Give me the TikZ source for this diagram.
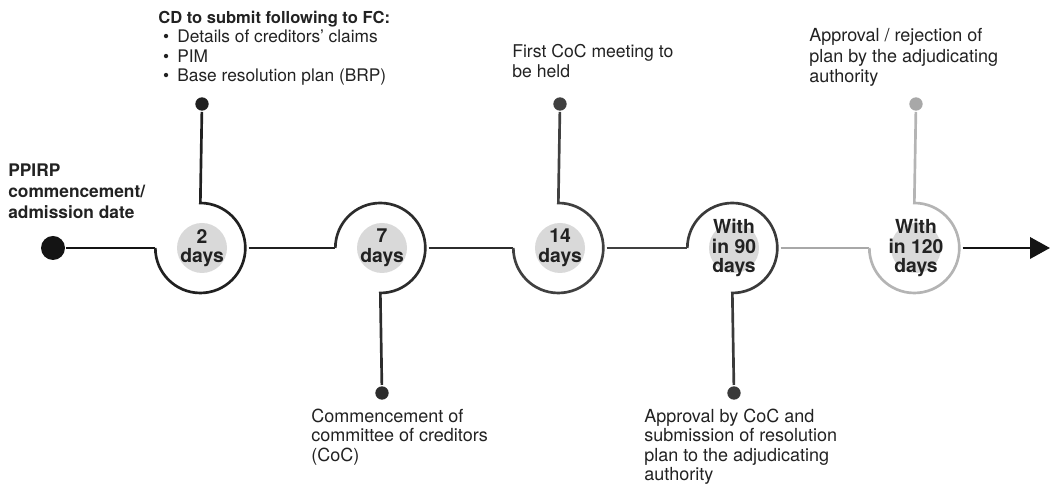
\documentclass[tikz,border=0pt]{standalone}
\usepackage{fontspec}
\setmainfont{TeX Gyre Heros}
\usetikzlibrary{arrows.meta}

\definecolor{ink}{HTML}{222222}
\definecolor{stagefill}{HTML}{D9D9D9}
\definecolor{tone0}{HTML}{141414}
\definecolor{tone1}{HTML}{202020}
\definecolor{tone2}{HTML}{2C2C2C}
\definecolor{tone3}{HTML}{404040}
\definecolor{tone4}{HTML}{3A3A3A}
\definecolor{tone5}{HTML}{B4B4B4}
\definecolor{link4}{HTML}{A8A8A8}

\tikzset{
    stage/.style={circle, minimum size=68pt, inner sep=0pt, align=center,
        text=ink, font=\bfseries\fontsize{14.5}{14.6}\selectfont,
        path picture={\fill[stagefill] (path picture bounding box.center) circle[radius=18.75pt];}},
    pin/.style={circle, fill, inner sep=0pt, minimum size=10pt},
    note/.style={anchor=north west, inner sep=0pt, align=left, text=ink,
        font=\fontsize{13.5}{14.4}\selectfont}
}
\newcommand{\itemdot}{\makebox[14.25pt][l]{\hspace{3.5pt}\textbullet}}

\begin{document}
\begin{tikzpicture}[x=0.75pt, y=0.75pt, line width=2pt]
    \useasboundingbox (0,0) rectangle (1051,484);

    % timeline stages
    \node[pin, minimum size=18pt, fill=tone0] (start) at (53,236) {};
    \node[stage] (s1) at (202,236) {2\\days};
    \node[stage] (s2) at (382,236) {7\\days};
    \node[stage] (s3) at (560,236) {14\\days};
    \node[stage] (s4) at (734,236) {With\\in 90\\days};
    \node[stage] (s5) at (916,236) {With\\in 120\\days};
    \coordinate (end) at (1050,236);

    % pins
    \node[pin, fill=tone1] (p1) at (202,380) {};
    \node[pin, fill=tone2] (p2) at (382,91) {};
    \node[pin, fill=tone3] (p3) at (560,380) {};
    \node[pin, fill=tone4] (p4) at (734,91) {};
    \node[pin, fill=link4] (p5) at (916,380) {};

    % line and arcs
    \draw[tone0] (start) -- (s1.west);
    \draw[tone1] (s1.west) arc[start angle=180, end angle=450, radius=45] -- (p1);
    \draw[tone1] (s1.east) -- (s2.west);
    \draw[tone2] (s2.west) arc[start angle=180, end angle=-90, radius=45] -- (p2);
    \draw[tone2] (s2.east) -- (s3.west);
    \draw[tone3] (s3.west) arc[start angle=180, end angle=450, radius=45] -- (p3);
    \draw[tone3] (s3.east) -- (s4.west);
    \draw[tone4] (s4.west) arc[start angle=180, end angle=-90, radius=45] -- (p4);
    \draw[link4] (s4.east) -- (s5.west);
    \draw[tone5] (s5.west) arc[start angle=180, end angle=450, radius=45] -- (p5);
    \draw[tone0, -{Triangle[length=15pt, width=16pt]}] (s5.east) -- (end);

    % texts
    \node[note, font=\fontsize{13}{14.5}\selectfont] (fc) at (157,474)
        {{\bfseries\fontsize{12.4}{14.5}\selectfont CD to submit following to FC:}\\
        \itemdot Details of creditors’ claims\\
        \itemdot PIM\\
        \itemdot Base resolution plan (BRP)};
    \node[note, font=\bfseries\fontsize{13}{15.5}\selectfont] (ppirp) at (7,321)
        {PPIRP\\commencement/\\admission date};
    \node[note, font=\fontsize{13.2}{15}\selectfont] (coc1) at (511,441) {First CoC meeting to\\be held};
    \node[note, font=\fontsize{13.5}{15.5}\selectfont] (adj) at (808,457) {Approval / rejection of\\plan by the adjudicating\\authority};
    \node[note] (coc) at (310,76) {Commencement of\\committee of creditors\\(CoC)};
    \node[note] (plan) at (643,76) {Approval by CoC and\\submission of resolution\\plan to the adjudicating\\authority};
\end{tikzpicture}
\end{document}
